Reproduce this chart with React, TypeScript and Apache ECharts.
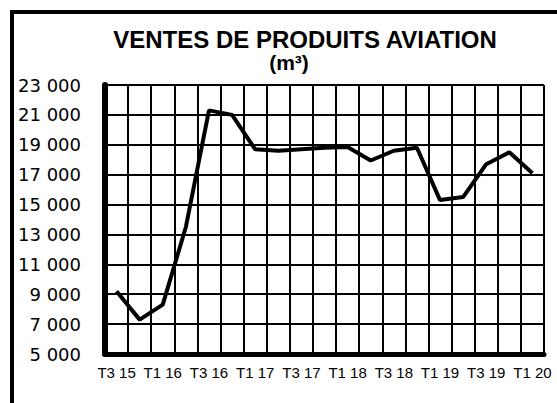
import React, { useEffect, useRef } from "react";
import * as echarts from "echarts";

const categories = [
  "T3 15", "T4 15", "T1 16", "T2 16", "T3 16", "T4 16", "T1 17", "T2 17",
  "T3 17", "T4 17", "T1 18", "T2 18", "T3 18", "T4 18", "T1 19", "T2 19",
  "T3 19", "T4 19", "T1 20",
];
const ventes = [
  9200, 7300, 8300, 13500, 21300, 21000, 18700, 18600, 18700, 18800, 18850,
  17950, 18600, 18800, 15300, 15500, 17700, 18500, 17100,
];
const titleText = "VENTES DE PRODUITS AVIATION";
const unitText = "(m³)";
const yMin = 5000;
const yMax = 23000;
const yStep = 2000;

const fmt = (v: number) => String(v).replace(/\B(?=(\d{3})+(?!\d))/g, " ");

export default function App() {
  const ref = useRef<HTMLDivElement>(null);
  useEffect(() => {
    if (!ref.current) return;
    const chart = echarts.init(ref.current, null, { renderer: "svg" });
    chart.setOption({
      animation: false,
      backgroundColor: "#ffffff",
      title: [
        {
          text: titleText,
          left: 300,
          top: 22,
          textAlign: "center",
          textStyle: {
            fontFamily: "Liberation Sans, Arial, sans-serif",
            fontWeight: "bold",
            fontSize: 24,
            color: "#000",
          },
        },
        {
          text: unitText,
          left: 284,
          top: 47,
          textAlign: "center",
          textStyle: {
            fontFamily: "Liberation Sans, Arial, sans-serif",
            fontWeight: "bold",
            fontSize: 21,
            color: "#000",
          },
        },
      ],
      graphic: [
        {
          type: "rect",
          shape: { x: 12, y: 12, width: 600, height: 500 },
          style: { fill: "none", stroke: "#000", lineWidth: 4 },
          silent: true,
        },
      ],
      grid: { left: 105, top: 85, width: 439, height: 269, containLabel: false },
      xAxis: {
        type: "category",
        data: categories,
        boundaryGap: true,
        axisLine: { show: true, lineStyle: { color: "#000", width: 5 } },
        axisTick: { show: false },
        splitLine: { show: true, interval: 0, lineStyle: { color: "#000", width: 2 } },
        axisLabel: {
          interval: 1,
          margin: 11,
          color: "#000",
          fontSize: 15,
          fontFamily: "Liberation Sans, Arial, sans-serif",
        },
      },
      yAxis: {
        type: "value",
        min: yMin,
        max: yMax,
        interval: yStep,
        axisLine: { show: true, lineStyle: { color: "#000", width: 6 } },
        axisTick: { show: true, length: 3, lineStyle: { color: "#000", width: 3 } },
        splitLine: { show: true, lineStyle: { color: "#000", width: 2 } },
        axisLabel: {
          margin: 24,
          color: "#000",
          fontSize: 18,
          fontFamily: "DejaVu Sans, sans-serif",
          formatter: (v: number) => fmt(v),
        },
      },
      series: [
        {
          type: "line",
          data: ventes,
          symbol: "none",
          lineStyle: { color: "#000", width: 4 },
          z: 5,
        },
      ],
    });
    return () => chart.dispose();
  }, []);
  return (
    <div
      ref={ref}
      style={{ position: "fixed", left: 0, top: 0, width: 557, height: 403 }}
    />
  );
}
